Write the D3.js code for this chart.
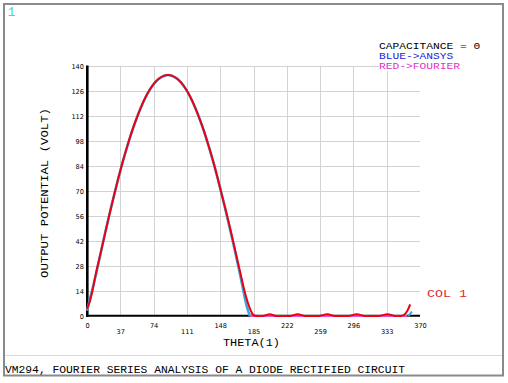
<!DOCTYPE html>
<html><head><meta charset="utf-8">
<script src="https://cdn.jsdelivr.net/npm/d3@7"></script>
<style>html,body{margin:0;padding:0;background:#fff}svg{display:block}</style>
</head><body><svg id="c" width="508" height="383"></svg>
<script>
// ---- data ----
const xTicks = [0,37,74,111,148,185,222,259,296,333,370];
const yTicks = [0,14,28,42,56,70,84,98,112,126,140];

// ANSYS solution (blue): half-wave rectified output
const ansysTheta = [0,10,20,30,40,50,60,70,80,90,100,110,120,130,140,150,160,170,175,178,181];
const ansysValue = [3,23.4,46.2,67.5,86.8,103.4,116.9,126.9,132.9,135,132.9,126.9,116.9,103.4,86.8,67.5,46.2,23.4,11,4.5,0];
// ANSYS zero portion (magenta)
const ansysZeroTheta = [181,356];
const ansysZeroValue = [0,0];
// ANSYS last rise (blue)
const ansysEndTheta = [357,361];
const ansysEndValue = [0,2.5];

// Fourier series result (red)
const fourierTheta = [0,3,6,10,15,20,25,30,35,40,45,50,55,60,65,70,75,80,85,90,95,100,105,110,115,120,125,130,135,140,145,150,155,160,165,170,175,179,182,185,190,196,203,210,218,226,234,242,250,258,267,275,283,291,300,308,317,325,334,342,348,352,356,359];
const fourierValue = [4,8,14,24,35,46,57,67.5,77.5,87,95.5,103.5,110.5,117,122.5,127,130.5,133,134.5,135,134.5,133,130.5,127,122.5,117,110.5,103.5,95.5,87,77.5,67.5,57.5,47,36,25,14,7,3,0.5,0,0,1,0,0,0,1,0,0,0,1,0,0,0,1,0,0,0,1,0,0,0.5,3,6.5];

const legendLines = ["CAPACITANCE = 0","BLUE->ANSYS","RED->FOURIER"];
const legendColors = ["#000000","#2222dd","#e030c8"];

// ---- drawing ----
const svg = d3.select("#c");
const x = d3.scaleLinear().domain([0,370]).range([87,420]);
const y = d3.scaleLinear().domain([0,140]).range([316,66]);
const mono = "'Liberation Mono','DejaVu Sans Mono',monospace";

// frame
svg.append("rect").attr("x",4).attr("y",4).attr("width",499).attr("height",371.5)
  .attr("fill","#fff").attr("stroke","#8a8a8a").attr("stroke-width",2);
svg.append("line").attr("x1",5).attr("x2",502).attr("y1",355.5).attr("y2",355.5)
  .attr("stroke","#d8d8d8").attr("stroke-width",1);

// grid
const g = svg.append("g");
g.selectAll(".hg").data(yTicks.slice(1)).join("line")
  .attr("x1",x(0)).attr("x2",x(370)).attr("y1",d=>Math.round(y(d))+0.5).attr("y2",d=>Math.round(y(d))+0.5)
  .attr("stroke","#d2d2d2").attr("stroke-width",1);
g.selectAll(".vg").data(xTicks.slice(1,-1)).join("line")
  .attr("x1",d=>Math.round(x(d))+0.5).attr("x2",d=>Math.round(x(d))+0.5).attr("y1",y(140)).attr("y2",y(0))
  .attr("stroke","#d2d2d2").attr("stroke-width",1);

// axes lines
svg.append("line").attr("x1",x(0)).attr("x2",x(370)).attr("y1",315.7).attr("y2",315.7)
  .attr("stroke","#000").attr("stroke-width",2);
svg.append("line").attr("x1",87.3).attr("x2",87.3).attr("y1",y(140)-0.5).attr("y2",317)
  .attr("stroke","#000").attr("stroke-width",2.6);

// tick labels via axes
const yAxis = svg.append("g").attr("transform","translate(84,0)")
  .call(d3.axisLeft(y).tickValues(yTicks).tickSize(0).tickPadding(0).tickFormat(d3.format("d")));
yAxis.select(".domain").remove();
yAxis.selectAll("text").attr("font-family","'DejaVu Sans',Verdana,sans-serif").attr("font-size","6.6px")
  .attr("fill","#000").attr("dy","0.35em");

const xAxis = svg.append("g").attr("transform","translate(0,323)")
  .call(d3.axisBottom(x).tickValues(xTicks).tickSize(0).tickPadding(0).tickFormat(d3.format("d")));
xAxis.select(".domain").remove();
xAxis.selectAll("text").attr("font-family","'DejaVu Sans',Verdana,sans-serif").attr("font-size","6.6px")
  .attr("fill","#000").attr("dy",(d,i)=> i%2 ? "1.65em" : "0.71em");

// clip for curves
svg.append("clipPath").attr("id","pc").append("rect")
  .attr("x",80).attr("y",60).attr("width",350).attr("height",257);
const curves = svg.append("g").attr("clip-path","url(#pc)");
const line = d3.line().x(d=>x(d[0])).y(d=>y(d[1])).curve(d3.curveCatmullRom);
const zip = (a,b)=>a.map((v,i)=>[v,b[i]]);

curves.append("path").datum(zip(ansysTheta,ansysValue)).attr("d",line)
  .attr("fill","none").attr("stroke","#3aa8dc").attr("stroke-width",2.6);
curves.append("path").datum(zip(ansysZeroTheta,ansysZeroValue)).attr("d",line)
  .attr("fill","none").attr("stroke","#e050d8").attr("stroke-width",2);
curves.append("path").datum(zip(ansysEndTheta,ansysEndValue)).attr("d",line)
  .attr("fill","none").attr("stroke","#3aa8dc").attr("stroke-width",2);
curves.append("path").datum(zip(fourierTheta,fourierValue)).attr("d",line)
  .attr("fill","none").attr("stroke","#ee0010").attr("stroke-width",2);

// legend
const lg = svg.append("g");
legendLines.forEach((t,i)=>{
  const ty = 49 + i*10;
  if (i===2) lg.append("rect").attr("x",379).attr("y",ty-8).attr("width",82).attr("height",10).attr("fill","#fff");
  lg.append("text").attr("x",379).attr("y",ty).text(t)
    .attr("font-family",mono).attr("font-size","9px").attr("fill",legendColors[i])
    .attr("textLength",t.length*6.75).attr("lengthAdjust","spacingAndGlyphs");
});

// texts
svg.append("text").attr("x",7.5).attr("y",16).text("1").attr("font-family",mono)
  .attr("font-size","13px").attr("fill","#40d8e0");
svg.append("text").attr("x",427).attr("y",297).text("COL  1").attr("font-family",mono)
  .attr("font-size","11px").attr("fill","#e02a2a").attr("textLength",40).attr("lengthAdjust","spacingAndGlyphs");
svg.append("text").attr("x",223).attr("y",346).text("THETA(1)").attr("font-family",mono)
  .attr("font-size","11.5px").attr("fill","#000").attr("textLength",57).attr("lengthAdjust","spacingAndGlyphs");
svg.append("text").attr("transform","translate(48,193) rotate(-90)").attr("text-anchor","middle")
  .text("OUTPUT POTENTIAL  (VOLT)").attr("font-family",mono).attr("font-size","11.5px").attr("fill","#000")
  .attr("textLength",170).attr("lengthAdjust","spacingAndGlyphs");
svg.append("text").attr("x",5).attr("y",373).text("VM294, FOURIER SERIES ANALYSIS OF A DIODE RECTIFIED CIRCUIT")
  .attr("font-family",mono).attr("font-size","11.3px").attr("fill","#000")
  .attr("textLength",400).attr("lengthAdjust","spacingAndGlyphs");
</script></body></html>
